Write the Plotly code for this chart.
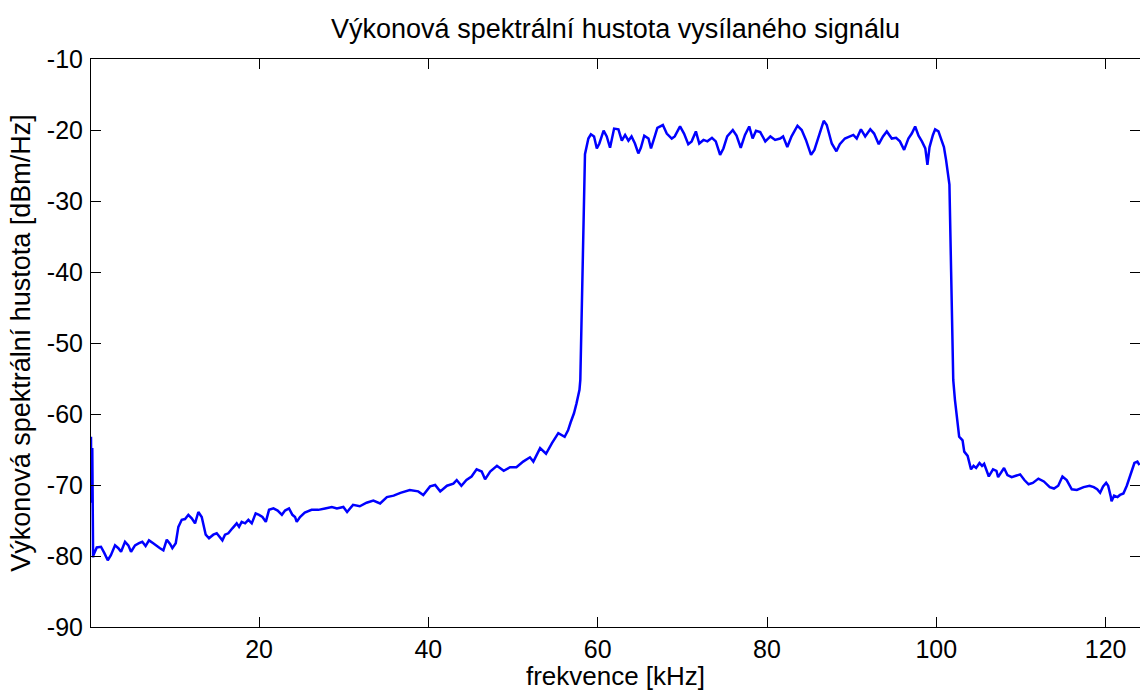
import plotly.graph_objects as go

# Power spectral density of the transmitted signal
freq_khz = [
    0.15, 0.2, 0.3, 0.4, 0.43, 0.83, 1.33, 1.73, 2.13, 2.5, 2.99, 3.38, 3.7, 4.17, 4.56, 4.88,
    5.35, 5.82, 6.21, 6.6, 7.0, 7.5, 7.9, 8.3, 8.7, 9.1, 9.49, 9.76, 10.16, 10.47, 10.87,
    11.26, 11.65, 12.05, 12.44, 12.83, 13.23, 13.42, 13.7, 14.09, 14.6, 15.0, 15.39, 15.67,
    15.98, 16.37, 16.85, 17.36, 17.64, 17.95, 18.35, 18.74, 19.14, 19.6, 20.0, 20.4, 20.8,
    21.18, 21.7, 22.2, 22.7, 23.07, 23.54, 23.94, 24.25, 24.45, 24.84, 25.4, 26.2, 27.0,
    27.8, 28.6, 29.2, 29.96, 30.4, 31.1, 31.9, 32.7, 33.5, 34.3, 35.1, 35.9, 36.7, 37.8,
    38.8, 39.4, 40.2, 40.8, 41.4, 42.2, 42.95, 43.35, 43.9, 44.5, 45.1, 45.7, 46.3, 46.7,
    47.3, 48.1, 48.9, 49.65, 50.4, 51.2, 52.0, 52.4, 53.2, 53.9, 54.6, 55.35, 56.1, 56.5,
    56.8, 57.2, 57.5, 57.85, 57.95, 58.2, 58.35, 58.45, 58.5, 58.9, 59.2, 59.57, 59.9,
    60.2, 60.7, 61.07, 61.46, 61.94, 62.45, 62.85, 63.24, 63.63, 64.0, 64.4, 64.8, 65.1,
    65.5, 66.0, 66.3, 66.66, 67.05, 67.7, 68.16, 68.75, 69.1, 69.73, 70.2, 70.7, 71.1,
    71.6, 72.0, 72.5, 72.96, 73.5, 73.95, 74.46, 74.85, 75.3, 75.96, 76.4, 76.9, 77.4,
    77.9, 78.3, 78.7, 79.2, 79.8, 80.4, 80.96, 81.55, 81.9, 82.4, 82.9, 83.6, 84.1, 84.6,
    85.2, 85.6, 86.07, 86.7, 87.06, 87.65, 88.2, 88.6, 89.2, 89.7, 90.2, 90.6, 91.1, 91.6,
    92.2, 92.65, 93.2, 93.7, 94.15, 94.74, 95.25, 95.7, 96.2, 96.7, 97.1, 97.5, 97.9, 98.3,
    98.7, 98.95, 99.2, 99.6, 99.86, 100.25, 100.65, 100.9, 101.15, 101.4, 101.55, 101.75,
    102.0, 102.2, 102.4, 102.7, 103.1, 103.3, 103.7, 103.9, 104.1, 104.4, 104.7, 105.1,
    105.4, 105.65, 106.2, 106.7, 107.1, 107.3, 107.6, 108.0, 108.4, 108.9, 109.4, 109.9,
    110.4, 110.9, 111.4, 112.06, 112.7, 113.4, 113.9, 114.4, 114.9, 115.4, 116.0, 116.6,
    117.4, 118.1, 118.6, 119.0, 119.35, 119.7, 120.06, 120.3, 120.6, 120.7, 121.0, 121.4,
    121.7, 122.1, 122.5, 122.9, 123.4, 123.75, 124.0,
]

psd_dbm_hz = [
    -63.2, -72.5, -64.8, -80.2, -79.9, -78.8, -78.7, -79.6, -80.6, -79.9, -78.5, -78.9, -79.4,
    -78.0, -78.5, -79.4, -78.5, -78.2, -78.0, -78.6, -77.8, -78.2, -78.6, -78.9, -79.2,
    -77.7, -78.3, -78.9, -78.2, -75.9, -74.9, -74.8, -74.2, -74.7, -75.4, -73.8, -74.5,
    -75.4, -77.0, -77.5, -77.0, -76.8, -77.3, -77.8, -77.0, -76.8, -76.1, -75.4, -75.9,
    -75.2, -75.4, -74.9, -75.4, -74.0, -74.2, -74.5, -75.2, -73.5, -73.3, -73.6, -74.2,
    -73.6, -73.3, -74.2, -74.5, -75.2, -74.5, -73.9, -73.5, -73.5, -73.3, -73.1, -73.3,
    -73.1, -73.8, -72.8, -73.0, -72.5, -72.2, -72.6, -71.7, -71.5, -71.1, -70.7, -70.9,
    -71.4, -70.2, -70.0, -70.9, -70.1, -69.8, -69.3, -70.1, -69.3, -68.8, -67.8, -68.1,
    -69.2, -68.1, -67.3, -68.0, -67.5, -67.5, -66.7, -66.1, -66.7, -64.8, -65.6, -64.1,
    -62.7, -63.2, -62.3, -61.2, -59.9, -58.5, -56.6, -55.2, -40.0, -28.0, -25.0, -23.4,
    -21.2, -20.6, -20.9, -22.6, -21.9, -20.1, -20.9, -22.5, -19.8, -19.9, -21.5, -20.7,
    -21.5, -20.9, -21.9, -23.3, -22.5, -20.8, -21.2, -22.6, -21.2, -19.7, -19.3, -20.5,
    -21.2, -20.9, -19.5, -20.5, -22.0, -21.6, -20.2, -21.9, -21.4, -21.6, -21.1, -21.6,
    -23.5, -22.6, -20.9, -20.0, -20.8, -22.5, -20.7, -19.5, -21.2, -20.1, -20.3, -21.6,
    -20.9, -21.4, -21.2, -20.9, -22.4, -20.9, -19.4, -20.0, -21.4, -23.5, -22.8, -20.9,
    -18.7, -19.3, -21.9, -23.0, -22.0, -21.2, -20.9, -20.7, -21.2, -19.9, -20.9, -19.9,
    -20.5, -22.0, -20.9, -20.2, -21.2, -21.1, -21.6, -22.8, -21.2, -20.5, -19.5, -20.8,
    -21.6, -22.6, -24.9, -22.4, -20.7, -19.9, -20.2, -21.6, -22.4, -24.2, -26.3, -27.7,
    -40.0, -55.2, -58.0, -59.9, -63.2, -63.7, -65.3, -65.9, -66.7, -67.8, -67.3, -67.6,
    -66.9, -67.3, -67.0, -68.8, -67.8, -68.0, -68.9, -68.3, -67.6, -68.6, -68.9, -68.7,
    -68.5, -69.3, -69.9, -69.7, -69.1, -69.5, -70.3, -70.5, -70.1, -68.8, -69.3, -70.6,
    -70.7, -70.3, -70.1, -70.3, -70.6, -71.1, -70.2, -69.7, -70.1, -71.6, -72.3, -71.5,
    -71.7, -71.4, -71.2, -70.1, -68.8, -66.9, -66.7, -67.2,
]

x_ticks = [20, 40, 60, 80, 100, 120]
y_ticks = [-90, -80, -70, -60, -50, -40, -30, -20, -10]
y_tick_labels = ["-90", "-80", "-70", "-60", "-50", "-40", "-30", "-20", "-10"]

FONT = "Liberation Sans, Arial, Helvetica, sans-serif"

fig = go.Figure()
fig.add_trace(go.Scatter(
    x=freq_khz,
    y=psd_dbm_hz,
    mode="lines",
    line=dict(color="#0000ff", width=2.5),
    showlegend=False,
    hoverinfo="skip",
))

axis_common = dict(
    showline=True,
    linecolor="black",
    linewidth=1,
    mirror="ticks",
    ticks="inside",
    ticklen=10,
    tickwidth=1,
    tickcolor="black",
    showgrid=False,
    zeroline=False,
    tickfont=dict(family=FONT, size=25, color="black"),
)

fig.update_layout(
    width=1140,
    height=691,
    margin=dict(l=91, r=0, t=59, b=64),
    paper_bgcolor="white",
    plot_bgcolor="white",
    font=dict(family=FONT, size=26, color="black"),
    title=dict(
        text="Výkonová spektrální hustota vysílaného signálu",
        x=0.5,
        xanchor="center",
        xref="paper",
        y=1 - 29 / 691,
        yref="container",
        yanchor="middle",
        font=dict(family=FONT, size=27, color="black"),
    ),
    xaxis=dict(
        range=[0.15, 124.06],
        tickvals=x_ticks,
        ticklabelstandoff=0,
        title=dict(text="frekvence [kHz]", standoff=7,
                   font=dict(family=FONT, size=26, color="black")),
        **axis_common,
    ),
    yaxis=dict(
        range=[-90, -10],
        tickvals=y_ticks,
        ticktext=y_tick_labels,
        ticklabelstandoff=2,
        title=dict(text="Výkonová spektrální hustota [dBm/Hz]", standoff=8,
                   font=dict(family=FONT, size=27, color="black")),
        **axis_common,
    ),
)

fig.write_html("out.html")
